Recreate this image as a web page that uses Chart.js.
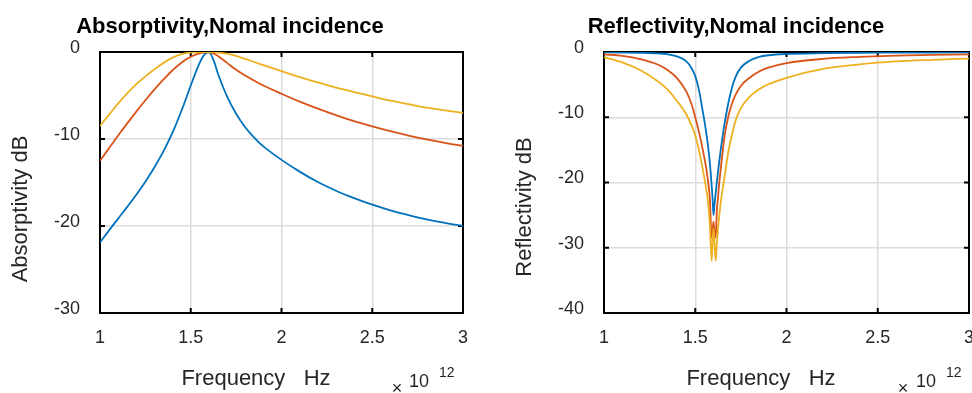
<!DOCTYPE html>
<html>
<head>
<meta charset="utf-8">
<script src="https://cdn.jsdelivr.net/npm/chart.js@4.4.1/dist/chart.umd.min.js"></script>
<style>
  html, body { margin: 0; padding: 0; background: #fff; }
  #wrap { position: relative; width: 972px; height: 393px; overflow: hidden; }
  .panel { position: absolute; top: 0; width: 486px; height: 393px; }
</style>
</head>
<body>
<div id="wrap">
  <div class="panel" style="left:0"><canvas id="absChart" width="486" height="393"></canvas></div>
  <div class="panel" style="left:486px"><canvas id="refChart" width="486" height="393"></canvas></div>
</div>
<script>
// frequency in units of 1e12 Hz
const xTicks = [1, 1.5, 2, 2.5, 3];
const absYTicks = [0, -10, -20, -30];
const refYTicks = [0, -10, -20, -30, -40];

// Absorptivity (dB), normal incidence
const absFreq = [1.0, 1.05, 1.1, 1.15, 1.2, 1.25, 1.3, 1.35, 1.4, 1.45, 1.5, 1.55, 1.575, 1.6, 1.625, 1.65,
                 1.7, 1.75, 1.8, 1.85, 1.9, 2.0, 2.1, 2.2, 2.3, 2.4, 2.5, 2.6, 2.7, 2.8, 2.9, 3.0];
const absBlue = [-21.9, -20.5, -19.15, -17.8, -16.4, -14.9, -13.25, -11.4, -9.25, -6.7, -3.85, -1.2, -0.3, 0, -0.9, -2.5,
                 -5.1, -7.1, -8.65, -9.85, -10.85, -12.4, -13.75, -14.95, -15.95, -16.8, -17.55, -18.2, -18.75, -19.25, -19.65, -20.0];
const absOrange = [-12.5, -11.05, -9.6, -8.2, -6.85, -5.55, -4.3, -3.15, -2.1, -1.2, -0.55, -0.15, -0.04, 0, -0.15, -0.45,
                   -1.25, -2.05, -2.7, -3.3, -3.85, -4.8, -5.7, -6.5, -7.25, -7.95, -8.55, -9.1, -9.6, -10.05, -10.45, -10.8];
const absYellow = [-8.5, -7.2, -5.9, -4.75, -3.7, -2.8, -2.0, -1.25, -0.65, -0.25, -0.05, 0, 0, 0, -0.02, -0.06,
                   -0.2, -0.45, -0.8, -1.15, -1.5, -2.2, -2.9, -3.5, -4.1, -4.6, -5.1, -5.6, -6.0, -6.4, -6.7, -7.0];

// Reflectivity (dB), normal incidence
const refFreq = [1.0, 1.1, 1.2, 1.3, 1.35, 1.4, 1.45, 1.48, 1.5, 1.52, 1.54, 1.56, 1.57, 1.58, 1.59, 1.595, 1.6,
                 1.605, 1.612, 1.618, 1.624, 1.63, 1.64, 1.65, 1.66, 1.68, 1.7, 1.72, 1.75, 1.8, 1.85, 1.9,
                 2.0, 2.2, 2.4, 2.6, 2.8, 3.0];
const refBlue = [-0.05, -0.08, -0.12, -0.22, -0.35, -0.68, -1.4, -2.5, -3.7, -5.8, -8.9, -12.3, -14.4, -17.0, -20.5, -22.5, -25.0,
                 -23.5, -21.6, -20.0, -18.5, -17.1, -14.9, -12.9, -11.1, -8.0, -5.6, -3.9, -2.4, -1.3, -0.75, -0.5,
                 -0.3, -0.18, -0.12, -0.1, -0.08, -0.07];
const refOrange = [-0.35, -0.6, -1.1, -2.0, -2.8, -4.0, -6.0, -8.0, -10.0, -12.2, -14.8, -17.8, -19.8, -22.5, -28.5, -27.5, -26.0,
                   -27.5, -28.5, -24.5, -22.5, -20.5, -17.8, -15.3, -13.0, -10.0, -8.0, -6.6, -5.2, -3.9, -3.0, -2.4,
                   -1.7, -1.05, -0.75, -0.55, -0.45, -0.35];
const refYellow = [-0.8, -1.6, -2.8, -4.6, -5.8, -7.5, -9.5, -11.3, -12.8, -15.0, -17.8, -21.0, -23.0, -26.5, -32.0, -29.0, -27.0,
                   -29.0, -32.0, -29.5, -27.3, -25.5, -23.0, -21.0, -19.2, -15.5, -12.8, -10.6, -8.6, -6.8, -5.7, -4.95,
                   -3.95, -2.6, -1.9, -1.45, -1.2, -1.0];

const FONT = "'Liberation Sans', Arial, Helvetica, sans-serif";
const BLUE = '#0072BD', ORANGE = '#D95319', YELLOW = '#EDB120';

function pts(xs, ys) {
  return xs.map((x, i) => ({ x: x, y: ys[i] }));
}

// box, inner tick marks and free text (titles, axis labels, exponent)
const matlabFrame = {
  id: 'matlabFrame',
  beforeDatasetsDraw(chart) {
    const { ctx, chartArea: a, scales: { x, y } } = chart;
    ctx.save();
    ctx.strokeStyle = '#000';
    ctx.lineWidth = 2;
    ctx.strokeRect(a.left, a.top, a.right - a.left, a.bottom - a.top);
    ctx.beginPath();
    x.ticks.forEach(t => {
      const px = x.getPixelForValue(t.value);
      ctx.moveTo(px, a.bottom); ctx.lineTo(px, a.bottom - 5);
      ctx.moveTo(px, a.top); ctx.lineTo(px, a.top + 5);
    });
    y.ticks.forEach(t => {
      const py = y.getPixelForValue(t.value);
      ctx.moveTo(a.left, py); ctx.lineTo(a.left + 5, py);
      ctx.moveTo(a.right, py); ctx.lineTo(a.right - 5, py);
    });
    ctx.stroke();
    ctx.restore();
  },
  afterDraw(chart, args, opts) {
    const ctx = chart.ctx;
    (opts.texts || []).forEach(t => {
      ctx.save();
      ctx.fillStyle = t.color || '#262626';
      ctx.font = t.font;
      ctx.textAlign = t.align || 'center';
      ctx.textBaseline = 'alphabetic';
      ctx.translate(t.x, t.y);
      if (t.rotate) ctx.rotate(t.rotate);
      ctx.fillText(t.text, 0, 0);
      ctx.restore();
    });
  }
};

function makeChart(id, freq, blue, orange, yellow, yTicks, yMin, yWidth, padRight, mode, texts) {
  const line = (data, color, order) => ({
    data: pts(freq, data),
    borderColor: color,
    borderWidth: 1.8,
    pointRadius: 0,
    fill: false,
    tension: 0.4,
    cubicInterpolationMode: mode,
    order: order
  });
  return new Chart(document.getElementById(id), {
    type: 'line',
    data: {
      datasets: [line(blue, BLUE, 3), line(orange, ORANGE, 2), line(yellow, YELLOW, 1)]
    },
    options: {
      responsive: false,
      animation: false,
      layout: { padding: { left: 0, right: padRight, top: 52, bottom: 0 } },
      plugins: {
        legend: { display: false },
        tooltip: { enabled: false },
        matlabFrame: { texts: texts }
      },
      scales: {
        x: {
          type: 'linear',
          min: 1, max: 3,
          afterBuildTicks: s => { s.ticks = xTicks.map(v => ({ value: v })); },
          afterFit: s => { s.height = 80; s.paddingLeft = 0; s.paddingRight = 0; },
          grid: { color: '#dcdcdc', lineWidth: 1.5, drawTicks: false },
          border: { display: false },
          ticks: { padding: 14, color: '#262626', font: { family: FONT, size: 18 }, callback: v => String(v), maxRotation: 0 }
        },
        y: {
          min: yMin, max: 0,
          afterBuildTicks: s => { s.ticks = yTicks.map(v => ({ value: v })); },
          afterFit: s => { s.width = yWidth; s.paddingTop = 0; s.paddingBottom = 0; },
          grid: { color: '#dcdcdc', lineWidth: 1.5, drawTicks: false },
          border: { display: false },
          ticks: { padding: 20, labelOffset: -4, color: '#262626', font: { family: FONT, size: 18 }, callback: v => String(v) }
        }
      }
    },
    plugins: [matlabFrame]
  });
}

const bold = 'bold 22px ' + FONT;
const label = '22px ' + FONT;

makeChart('absChart', absFreq, absBlue, absOrange, absYellow, absYTicks, -30, 100, 23, 'default', [
  { text: 'Absorptivity,Nomal incidence', x: 230, y: 33, font: bold, color: '#000' },
  { text: 'Frequency   Hz', x: 256, y: 385, font: label },
  { text: 'Absorptivity dB', x: 27, y: 209, font: label, rotate: -Math.PI / 2 },
  { text: '\u00d7', x: 397, y: 394, font: '18px ' + FONT },
  { text: '10', x: 409, y: 387, font: '18px ' + FONT, align: 'left' },
  { text: '12', x: 439, y: 377, font: '14px ' + FONT, align: 'left' }
]);

makeChart('refChart', refFreq, refBlue, refOrange, refYellow, refYTicks, -40, 118, 3, 'monotone', [
  { text: 'Reflectivity,Nomal incidence', x: 250, y: 33, font: bold, color: '#000' },
  { text: 'Frequency   Hz', x: 275, y: 385, font: label },
  { text: 'Reflectivity dB', x: 45, y: 207, font: label, rotate: -Math.PI / 2 },
  { text: '\u00d7', x: 417, y: 394, font: '18px ' + FONT },
  { text: '10', x: 430, y: 387, font: '18px ' + FONT, align: 'left' },
  { text: '12', x: 460, y: 377, font: '14px ' + FONT, align: 'left' }
]);
</script>
</body>
</html>
